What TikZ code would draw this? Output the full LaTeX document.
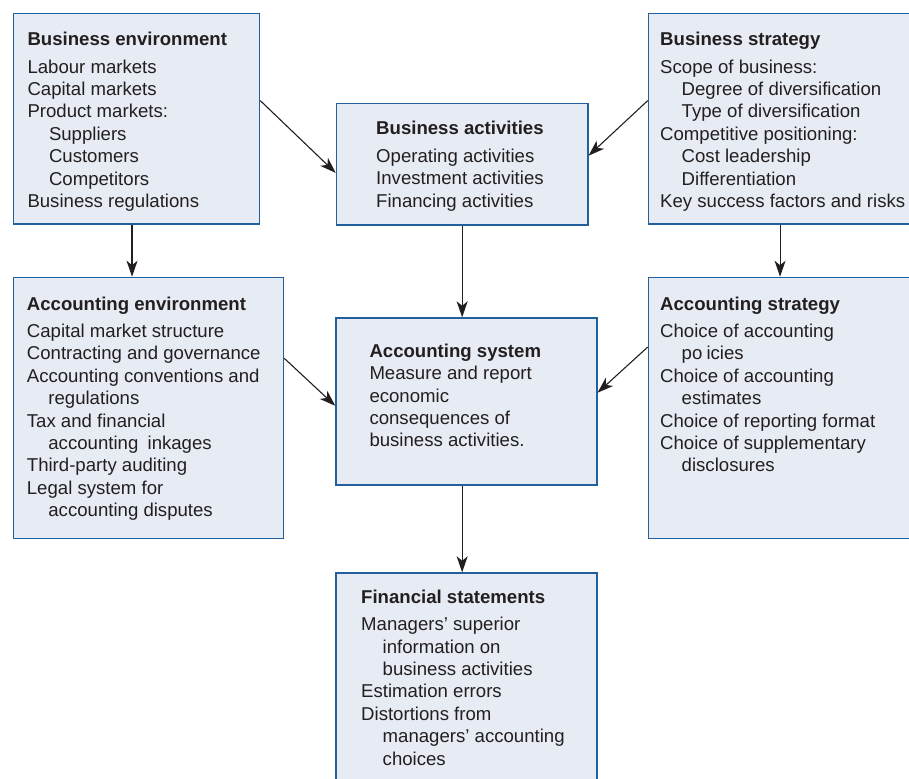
\documentclass[tikz,border=0pt]{standalone}
\usepackage{fontspec}
\setmainfont{Liberation Sans}
\usetikzlibrary{arrows.meta,calc}
\definecolor{boxfill}{HTML}{E6EBF4}
\definecolor{boxline}{HTML}{21609A}
\definecolor{ink}{HTML}{231F20}
\newcommand{\ind}{\hspace*{21.5pt}}
\newcommand{\hd}[1]{\textbf{#1}\\[5pt]}
\newcommand{\hdtight}[1]{\textbf{#1}\\}
\newenvironment{lines}{\begin{tabular}[t]{@{}l@{}}}{\end{tabular}}
\begin{document}
\begin{tikzpicture}[x=1pt,y=-1pt,
  panel/.style={draw=boxline, fill=boxfill, line width=1.6pt, rectangle,
                anchor=north west, inner sep=0pt},
  txt/.style={anchor=base west, inner sep=0pt, text=ink,
              font=\fontsize{18.6}{22.4}\selectfont},
  arr/.style={draw=ink, line width=1.1pt,
              -{Stealth[length=16pt,width=11pt,inset=4.5pt]}}]
\useasboundingbox (0,0) rectangle (909,778);
\clip (0,0) rectangle (909,778);

% panels
\node[panel, minimum width=246pt,   minimum height=210.3pt] (be)  at (12.7,12.7)  {};
\node[panel, minimum width=280pt,   minimum height=210.3pt] (bs)  at (647.7,12.7) {};
\node[panel, minimum width=251.3pt, minimum height=121.6pt] (ba)  at (335.7,102.7) {};
\node[panel, minimum width=270pt,   minimum height=261pt]   (ae)  at (12.7,276.7) {};
\node[panel, minimum width=260.7pt, minimum height=166.7pt] (as)  at (335.3,317.3) {};
\node[panel, minimum width=280pt,   minimum height=261pt]   (acs) at (647.7,276.7) {};
\node[panel, minimum width=260.7pt, minimum height=230pt]   (fs)  at (335.3,572.3) {};

% panel texts
\node[txt] (tbe) at (27.3,45.7) {\begin{lines}
\hd{Business environment}
Labour markets\\
Capital markets\\
Product markets:\\
\ind Suppliers\\
\ind Customers\\
\ind Competitors\\
Business regulations
\end{lines}};

\node[txt] (tbs) at (660,45.7) {\begin{lines}
\hd{Business strategy}
Scope of business:\\
\ind Degree of diversification\\
\ind Type of diversification\\
Competitive positioning:\\
\ind Cost leadership\\
\ind Differentiation\\
Key success factors and risks
\end{lines}};

\node[txt] (tba) at (376,135) {\begin{lines}
\hd{Business activities}
Operating activities\\
Investment activities\\
Financing activities
\end{lines}};

\node[txt] (tae) at (26.7,310) {\begin{lines}
\hd{Accounting environment}
Capital market structure\\
Contracting and governance\\
Accounting conventions and\\
\ind regulations\\
Tax and financial\\
\ind accounting \hphantom{l}inkages\\
Third-party auditing\\
Legal system for\\
\ind accounting disputes
\end{lines}};

\node[txt] (tas) at (369.3,357.3) {\begin{lines}
\hdtight{Accounting system}
Measure and report\\
economic\\
consequences of\\
business activities.
\end{lines}};

\node[txt] (tacs) at (660,310) {\begin{lines}
\hd{Accounting strategy}
Choice of accounting\\
\ind po\hphantom{l}icies\\
Choice of accounting\\
\ind estimates\\
Choice of reporting format\\
Choice of supplementary\\
\ind disclosures
\end{lines}};

\node[txt] (tfs) at (361,603.3) {\begin{lines}
\hd{Financial statements}
Managers’ superior\\
\ind information on\\
\ind business activities\\
Estimation errors\\
Distortions from\\
\ind managers’ accounting\\
\ind choices
\end{lines}};

% connectors
\draw[arr] ($(be.north east)!0.415!(be.south east)$) -- ($(ba.north west)!0.57!(ba.south west)$);
\draw[arr] ($(bs.north west)!0.415!(bs.south west)$) -- ($(ba.north east)!0.43!(ba.south east)$);
\coordinate (beout) at ($(be.south west)!0.482!(be.south east)$);
\draw[arr] (beout) -- (beout |- ae.north);
\coordinate (bsout) at ($(bs.south west)!0.47!(bs.south east)$);
\draw[arr] (bsout) -- (bsout |- acs.north);
\draw[arr] (ba.south) -- (ba.south |- as.north);
\draw[arr] (ba.south |- as.south) -- (ba.south |- fs.north);
\draw[arr] ($(ae.north east)!0.311!(ae.south east)$) -- ($(as.north west)!0.526!(as.south west)$);
\draw[arr] ($(acs.north west)!0.268!(acs.south west)$) -- ($(as.north east)!0.448!(as.south east)$);
\end{tikzpicture}
\end{document}
